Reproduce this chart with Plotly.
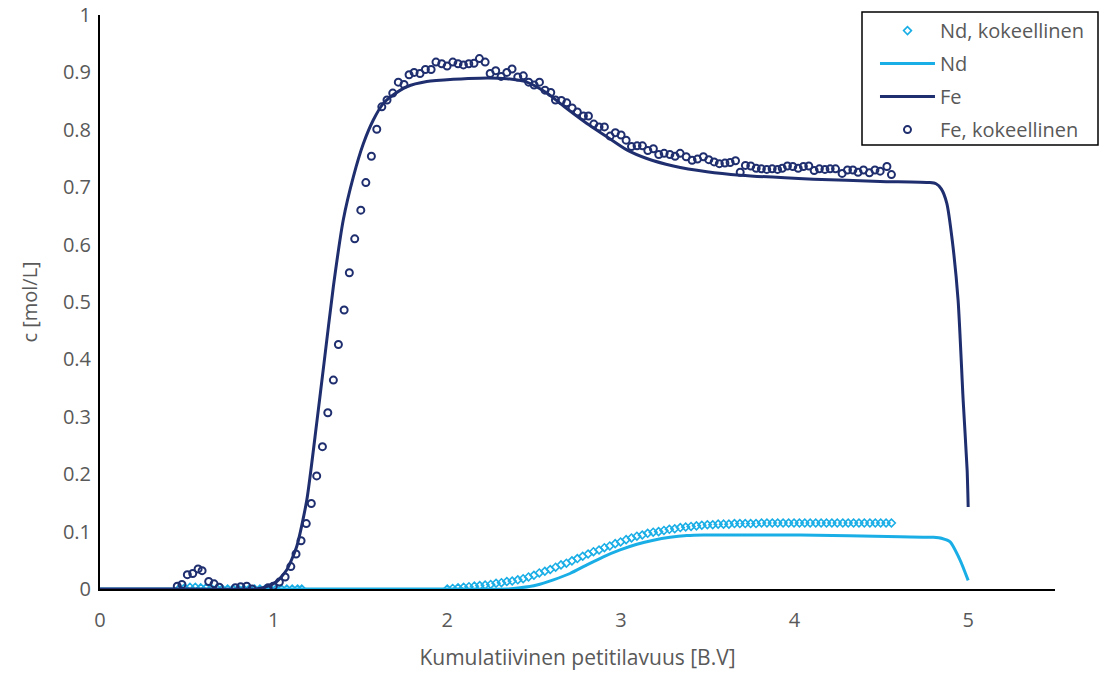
import plotly.graph_objects as go

# ---------------- data ----------------
fe_exp_x = [0.445, 0.472, 0.503, 0.534, 0.565, 0.588, 0.626, 0.657, 0.687, 0.779, 0.810, 0.845, 0.876,
            0.968, 0.998, 1.033, 1.066, 1.099, 1.129, 1.158, 1.188, 1.217, 1.248, 1.281, 1.312, 1.344,
            1.373, 1.406, 1.436, 1.467, 1.502, 1.531, 1.563, 1.594, 1.623, 1.653, 1.686, 1.718, 1.751,
            1.780, 1.809, 1.843, 1.874, 1.907, 1.935, 1.968, 1.999, 2.032, 2.062, 2.093, 2.124, 2.154,
            2.185, 2.218, 2.247, 2.279, 2.310, 2.343, 2.373, 2.406, 2.438, 2.469, 2.500, 2.531, 2.563,
            2.596, 2.623, 2.657, 2.688, 2.719, 2.749, 2.784, 2.813, 2.844, 2.874, 2.905, 2.938, 2.968,
            3.001, 3.030, 3.061, 3.093, 3.124, 3.155, 3.187, 3.218, 3.249, 3.282, 3.312, 3.341, 3.376,
            3.410, 3.441, 3.475, 3.506, 3.537, 3.567, 3.599, 3.629, 3.660, 3.687, 3.717, 3.748, 3.779,
            3.809, 3.840, 3.871, 3.902, 3.929, 3.959, 3.990, 4.021, 4.051, 4.082, 4.113, 4.143, 4.175,
            4.205, 4.236, 4.274, 4.305, 4.336, 4.366, 4.397, 4.431, 4.463, 4.493, 4.532, 4.558]
fe_exp_y = [0.005, 0.008, 0.025, 0.027, 0.035, 0.032, 0.013, 0.009, 0.003, 0.002, 0.004, 0.005, 0.000,
            0.002, 0.005, 0.012, 0.021, 0.039, 0.061, 0.084, 0.114, 0.149, 0.197, 0.248, 0.307, 0.364,
            0.426, 0.486, 0.551, 0.610, 0.660, 0.708, 0.754, 0.801, 0.840, 0.852, 0.864, 0.883, 0.879,
            0.896, 0.900, 0.898, 0.905, 0.905, 0.918, 0.915, 0.911, 0.918, 0.915, 0.913, 0.915, 0.916,
            0.924, 0.918, 0.898, 0.903, 0.893, 0.900, 0.906, 0.892, 0.894, 0.883, 0.878, 0.883, 0.869,
            0.865, 0.852, 0.851, 0.847, 0.838, 0.831, 0.824, 0.824, 0.810, 0.805, 0.805, 0.789, 0.795,
            0.791, 0.782, 0.771, 0.772, 0.772, 0.764, 0.767, 0.757, 0.759, 0.757, 0.754, 0.759, 0.753,
            0.747, 0.749, 0.753, 0.748, 0.744, 0.741, 0.742, 0.743, 0.746, 0.726, 0.738, 0.737, 0.733,
            0.732, 0.731, 0.732, 0.731, 0.733, 0.737, 0.736, 0.733, 0.736, 0.737, 0.729, 0.732, 0.731,
            0.732, 0.732, 0.724, 0.730, 0.730, 0.726, 0.730, 0.725, 0.730, 0.728, 0.736, 0.722]

nd_exp_x = [0.457, 0.487, 0.518, 0.549, 0.580, 0.611, 0.642, 0.673, 0.704, 0.735, 0.766, 0.797,
            0.828, 0.859, 0.890, 0.921, 0.952, 0.983, 1.014, 1.045, 1.076, 1.107, 1.138, 1.162,
            2.000, 2.031, 2.062, 2.094, 2.125, 2.156, 2.187, 2.218, 2.250, 2.281, 2.312, 2.343,
            2.374, 2.406, 2.437, 2.468, 2.499, 2.530, 2.562, 2.593, 2.624, 2.655, 2.686, 2.718,
            2.749, 2.780, 2.811, 2.842, 2.874, 2.905, 2.936, 2.967, 2.998, 3.030, 3.061, 3.092,
            3.123, 3.154, 3.186, 3.217, 3.248, 3.279, 3.310, 3.342, 3.373, 3.404, 3.435, 3.466,
            3.498, 3.529, 3.560, 3.591, 3.622, 3.654, 3.685, 3.716, 3.747, 3.778, 3.810, 3.841,
            3.872, 3.903, 3.934, 3.966, 3.997, 4.028, 4.059, 4.090, 4.122, 4.153, 4.184, 4.215,
            4.246, 4.278, 4.309, 4.340, 4.371, 4.402, 4.434, 4.465, 4.496, 4.527, 4.558]
nd_exp_y = [0.001, 0.002, 0.003, 0.003, 0.002, 0.002, 0.001, 0.001, 0.000, 0.000, 0.000, 0.000,
            0.000, 0.000, 0.000, 0.000, 0.000, 0.000, 0.000, 0.000, 0.000, 0.000, 0.000, 0.000,
            0.000, 0.001, 0.002, 0.003, 0.004, 0.005, 0.006, 0.007, 0.008, 0.010, 0.011, 0.013,
            0.014, 0.016, 0.018, 0.021, 0.024, 0.028, 0.031, 0.034, 0.038, 0.042, 0.045, 0.049,
            0.053, 0.057, 0.061, 0.065, 0.068, 0.072, 0.075, 0.079, 0.082, 0.086, 0.089, 0.092,
            0.094, 0.097, 0.099, 0.100, 0.102, 0.104, 0.105, 0.107, 0.108, 0.109, 0.110, 0.111,
            0.112, 0.112, 0.113, 0.113, 0.113, 0.114, 0.114, 0.114, 0.114, 0.114, 0.115, 0.115,
            0.115, 0.115, 0.115, 0.115, 0.115, 0.115, 0.115, 0.115, 0.115, 0.115, 0.115, 0.115,
            0.115, 0.115, 0.115, 0.115, 0.115, 0.115, 0.115, 0.115, 0.115, 0.115, 0.115]

fe_model_x = [0.0, 0.5, 0.90, 0.96, 1.018, 1.075, 1.133, 1.191, 1.248, 1.290, 1.344, 1.401, 1.459,
              1.517, 1.574, 1.632, 1.690, 1.767, 1.882, 2.035, 2.189, 2.343, 2.458, 2.573,
              2.688, 2.804, 2.919, 3.034, 3.149, 3.302, 3.495, 3.687, 4.109, 4.493, 4.780, 4.815,
              4.845, 4.877, 4.908, 4.942, 4.971, 4.994, 5.0]
fe_model_y = [0.0, 0.0, 0.0, 0.004, 0.013, 0.033, 0.074, 0.155, 0.289, 0.393, 0.527, 0.643, 0.718,
              0.776, 0.817, 0.846, 0.861, 0.875, 0.884, 0.888, 0.890, 0.889, 0.883, 0.864,
              0.837, 0.811, 0.788, 0.765, 0.750, 0.737, 0.727, 0.721, 0.714, 0.710, 0.708, 0.706,
              0.697, 0.672, 0.608, 0.503, 0.329, 0.207, 0.143]

nd_model_x = [0.0, 1.0, 2.0, 2.35, 2.419, 2.516, 2.611, 2.707, 2.804, 2.899, 2.995, 3.092, 3.187,
              3.283, 3.380, 3.475, 3.571, 4.032, 4.608, 4.800, 4.850, 4.896, 4.954, 5.0]
nd_model_y = [0.0, 0.0, 0.0, 0.0, 0.002, 0.007, 0.016, 0.027, 0.042, 0.056, 0.068, 0.078, 0.085,
              0.090, 0.093, 0.094, 0.094, 0.094, 0.091, 0.090, 0.088, 0.082, 0.050, 0.015]

x_ticks = [0, 1, 2, 3, 4, 5]
y_ticks = [0, 0.1, 0.2, 0.3, 0.4, 0.5, 0.6, 0.7, 0.8, 0.9, 1]
y_tick_text = ["0", "0.1", "0.2", "0.3", "0.4", "0.5", "0.6", "0.7", "0.8", "0.9", "1"]

FE = "#1f2e6e"
ND = "#1aaee6"
TXT = "#595959"
FONT = "Open Sans"
FS = 20

fig = go.Figure()
fig.add_trace(go.Scatter(x=nd_exp_x, y=nd_exp_y, mode="markers", name="Nd, kokeellinen",
                         legendgroup="a",
                         marker=dict(symbol="diamond-open", size=6, color=ND, line=dict(width=1.6, color=ND))))
fig.add_trace(go.Scatter(x=nd_model_x, y=nd_model_y, mode="lines", name="Nd", legendgroup="b",
                         line=dict(color=ND, width=3, shape="spline", smoothing=0.6)))
fig.add_trace(go.Scatter(x=fe_model_x, y=fe_model_y, mode="lines", name="Fe", legendgroup="c",
                         line=dict(color=FE, width=3, shape="spline", smoothing=0.6)))
fig.add_trace(go.Scatter(x=fe_exp_x, y=fe_exp_y, mode="markers", name="Fe, kokeellinen",
                         legendgroup="d",
                         marker=dict(symbol="circle-open", size=7, color=FE, line=dict(width=2, color=FE))))

# legend frame
fig.add_shape(type="rect", xref="paper", yref="paper",
              x0=(862 - 100) / 955, x1=(1098 - 100) / 955,
              y0=(589 - 145) / 574, y1=(589 - 12) / 574,
              line=dict(color="black", width=1.5), fillcolor="rgba(0,0,0,0)", layer="above")

fig.update_layout(
    width=1102, height=673,
    margin=dict(l=100, r=47, t=15, b=84, autoexpand=False),
    paper_bgcolor="white", plot_bgcolor="white",
    font=dict(family=FONT, size=FS, color=TXT),
    showlegend=True,
    legend=dict(x=0.8115, y=1.0068, xanchor="left", yanchor="top",
                borderwidth=0, bgcolor="rgba(0,0,0,0)",
                font=dict(family=FONT, size=FS, color=TXT),
                traceorder="grouped", tracegroupgap=4, itemwidth=55),
    xaxis=dict(range=[0, 5.5], tickvals=x_ticks, ticks="", showgrid=False, zeroline=False,
               showline=True, linecolor="black", linewidth=2, layer="below traces",
               tickfont=dict(size=FS, color=TXT), ticklabelstandoff=12,
               title=dict(text="Kumulatiivinen petitilavuus [B.V]", font=dict(size=21, color=TXT), standoff=18)),
    yaxis=dict(range=[0, 1], tickvals=y_ticks, ticktext=y_tick_text, ticks="", showgrid=False,
               zeroline=False, showline=True, linecolor="black", linewidth=2, layer="below traces",
               tickfont=dict(size=FS, color=TXT), ticklabelstandoff=3,
               title=dict(text="c [mol/L]", font=dict(size=FS, color=TXT), standoff=20)),
)

fig.write_html("out.html")
